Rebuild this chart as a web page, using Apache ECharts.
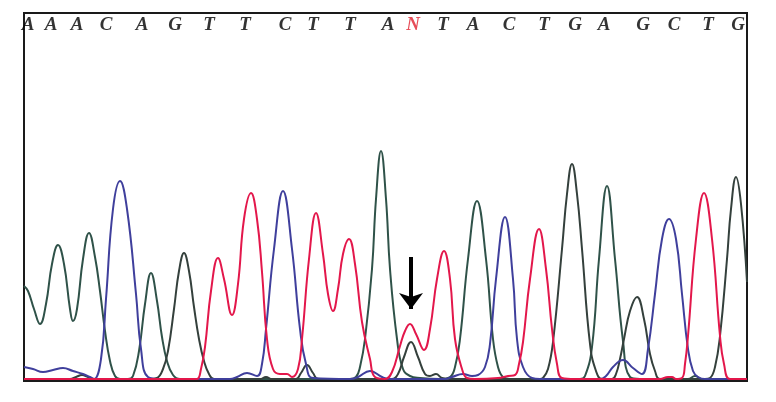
<!DOCTYPE html>
<html>
<head>
<meta charset="utf-8">
<script src="https://cdn.jsdelivr.net/npm/echarts@6/dist/echarts.min.js"></script>
<style>
  html, body { margin: 0; padding: 0; background: #fff; }
  #main { width: 776px; height: 402px; }
</style>
</head>
<body>
<div id="main"></div>
<script>
// base calls along the top
var baseLetters = ['A','A','A','C','A','G','T','T','C','T','T','A','N','T','A','C','T','G','A','G','C','T','G'];
var basePos = [28,51,77,106,142,175,209,245,285,313,350,388,413,443,473,509,544,575,604,643,674,708,738];

// trace points [scan position, signal]
var traceA = [[24,93],[28,88],[34,70],[40,55],[46,75],[52,115],[58,134],[64,115],[70,70],[73,58],[77,70],[83,120],[89,146],[95,122],[100,88],[105,48],[110,18],[115,3],[120,0],[128,0],[133,3],[139,28],[145,75],[151,106],[157,78],[162,42],[167,18],[173,4],[180,0],[350,0],[356,2],[360,12],[365,40],[372,110],[376,180],[381,228],[386,180],[390,110],[397,40],[403,10],[410,3],[420,1],[440,0],[450,2],[455,12],[460,40],[468,120],[477,178],[486,120],[493,40],[498,12],[503,2],[510,0],[580,0],[585,3],[592,32],[599,120],[607,193],[615,120],[623,38],[630,2],[640,0],[688,0],[695,3],[702,0],[747,0]];
var traceC = [[24,12],[33,10],[43,7],[53,9],[63,11],[73,8],[83,5],[90,2],[94,0],[101,20],[106,80],[113,170],[120,198],[127,170],[136,85],[141,30],[148,2],[160,0],[230,0],[237,2],[247,6],[257,3],[262,15],[266,50],[274,130],[283,188],[292,130],[300,50],[306,15],[313,1],[350,0],[358,2],[370,8],[382,2],[390,0],[445,0],[452,2],[463,5],[472,3],[478,4],[485,12],[490,35],[496,100],[505,162],[513,100],[517,40],[523,12],[532,1],[540,0],[600,0],[606,3],[613,12],[623,19],[633,11],[642,5],[648,30],[655,85],[662,140],[669,160],[676,140],[682,85],[688,30],[693,8],[698,2],[705,0],[747,0]];
var traceG = [[24,0],[70,0],[76,2],[82,4],[88,2],[94,0],[150,0],[157,1],[163,10],[168,28],[174,70],[179,108],[184,126],[189,108],[194,72],[199,40],[204,18],[209,5],[214,0],[260,0],[266,2],[272,0],[296,0],[301,6],[307,14],[313,6],[318,0],[392,0],[398,5],[404,22],[411,37],[418,22],[425,5],[430,3],[436,5],[442,1],[450,0],[540,0],[543,1],[548,10],[553,37],[562,130],[567,185],[572,215],[577,185],[582,130],[590,35],[596,8],[602,0],[612,0],[616,5],[620,20],[624,40],[630,68],[637,82],[644,60],[650,25],[655,8],[660,0],[705,0],[710,1],[715,12],[720,43],[727,120],[731,170],[736,202],[741,175],[747,97]];
var traceT = [[24,0],[190,0],[197,0],[201,10],[205,32],[211,88],[218,121],[224,100],[232,64],[238,95],[244,160],[251,186],[257,160],[262,107],[267,40],[273,10],[280,5],[287,5],[292,2],[298,10],[302,40],[309,120],[316,166],[323,125],[328,85],[333,68],[338,90],[343,125],[349,140],[355,115],[362,57],[370,20],[375,2],[385,0],[392,7],[400,33],[405,48],[410,55],[416,45],[424,29],[430,50],[437,100],[444,128],[450,100],[455,40],[462,10],[467,1],[475,0],[498,1],[508,3],[515,4],[519,15],[523,37],[530,100],[539,150],[546,110],[552,50],[557,15],[562,1],[575,0],[660,0],[668,2],[672,2],[676,0],[682,1],[685,15],[688,43],[696,140],[704,186],[712,140],[720,43],[724,15],[730,0],[747,0]];

// arrow over the ambiguous call
var arrowX = 411, arrowTop = 122, arrowEnd = 70;

var chart = echarts.init(document.getElementById('main'));

var traceSeries = function(name, data, color){
	return {
		name: name,
		type: 'line',
		data: data,
		smooth: 0.45,
		symbol: 'none',
		silent: true,
		lineStyle: { color: color, width: 2 },
		z: 3
	};
};

var letterData = [];
baseLetters.forEach(function(l, i){
	letterData.push({
		value: [basePos[i], 354],
		label: { formatter: l, color: l === 'N' ? '#e0202e' : '#000' }
	});
});

var option = {
	animation: false,
	backgroundColor: '#fff',
	grid: {
		left: 24, right: 29, top: 13, bottom: 21,
		show: true, borderColor: '#1a1a1a', borderWidth: 2
	},
	xAxis: {
		type: 'value', min: 24, max: 747,
		axisLine: { show: false }, axisTick: { show: false },
		axisLabel: { show: false }, splitLine: { show: false }
	},
	yAxis: {
		type: 'value', min: -2, max: 366,
		axisLine: { show: false }, axisTick: { show: false },
		axisLabel: { show: false }, splitLine: { show: false }
	},
	series: [
		traceSeries('A', traceA, '#2f5249'),
		traceSeries('G', traceG, '#34403c'),
		traceSeries('C', traceC, '#3f3f9c'),
		traceSeries('T', traceT, '#e3174b'),
		{
			type: 'scatter',
			symbolSize: 0,
			silent: true,
			data: letterData,
			label: {
				show: true,
				position: 'inside',
				fontFamily: 'Liberation Serif',
				fontStyle: 'italic',
				fontWeight: 'bold',
				fontSize: 19
			},
			markLine: {
				silent: true,
				symbol: ['none', 'arrow'],
				symbolSize: [18, 16],
				label: { show: false },
				lineStyle: { color: '#000', width: 4, type: 'solid' },
				data: [[{ coord: [arrowX, arrowTop] }, { coord: [arrowX, arrowEnd] }]]
			}
		}
	]
};
chart.setOption(option);
window.onresize = function(){
	chart.resize();
};
</script>
</body>
</html>
